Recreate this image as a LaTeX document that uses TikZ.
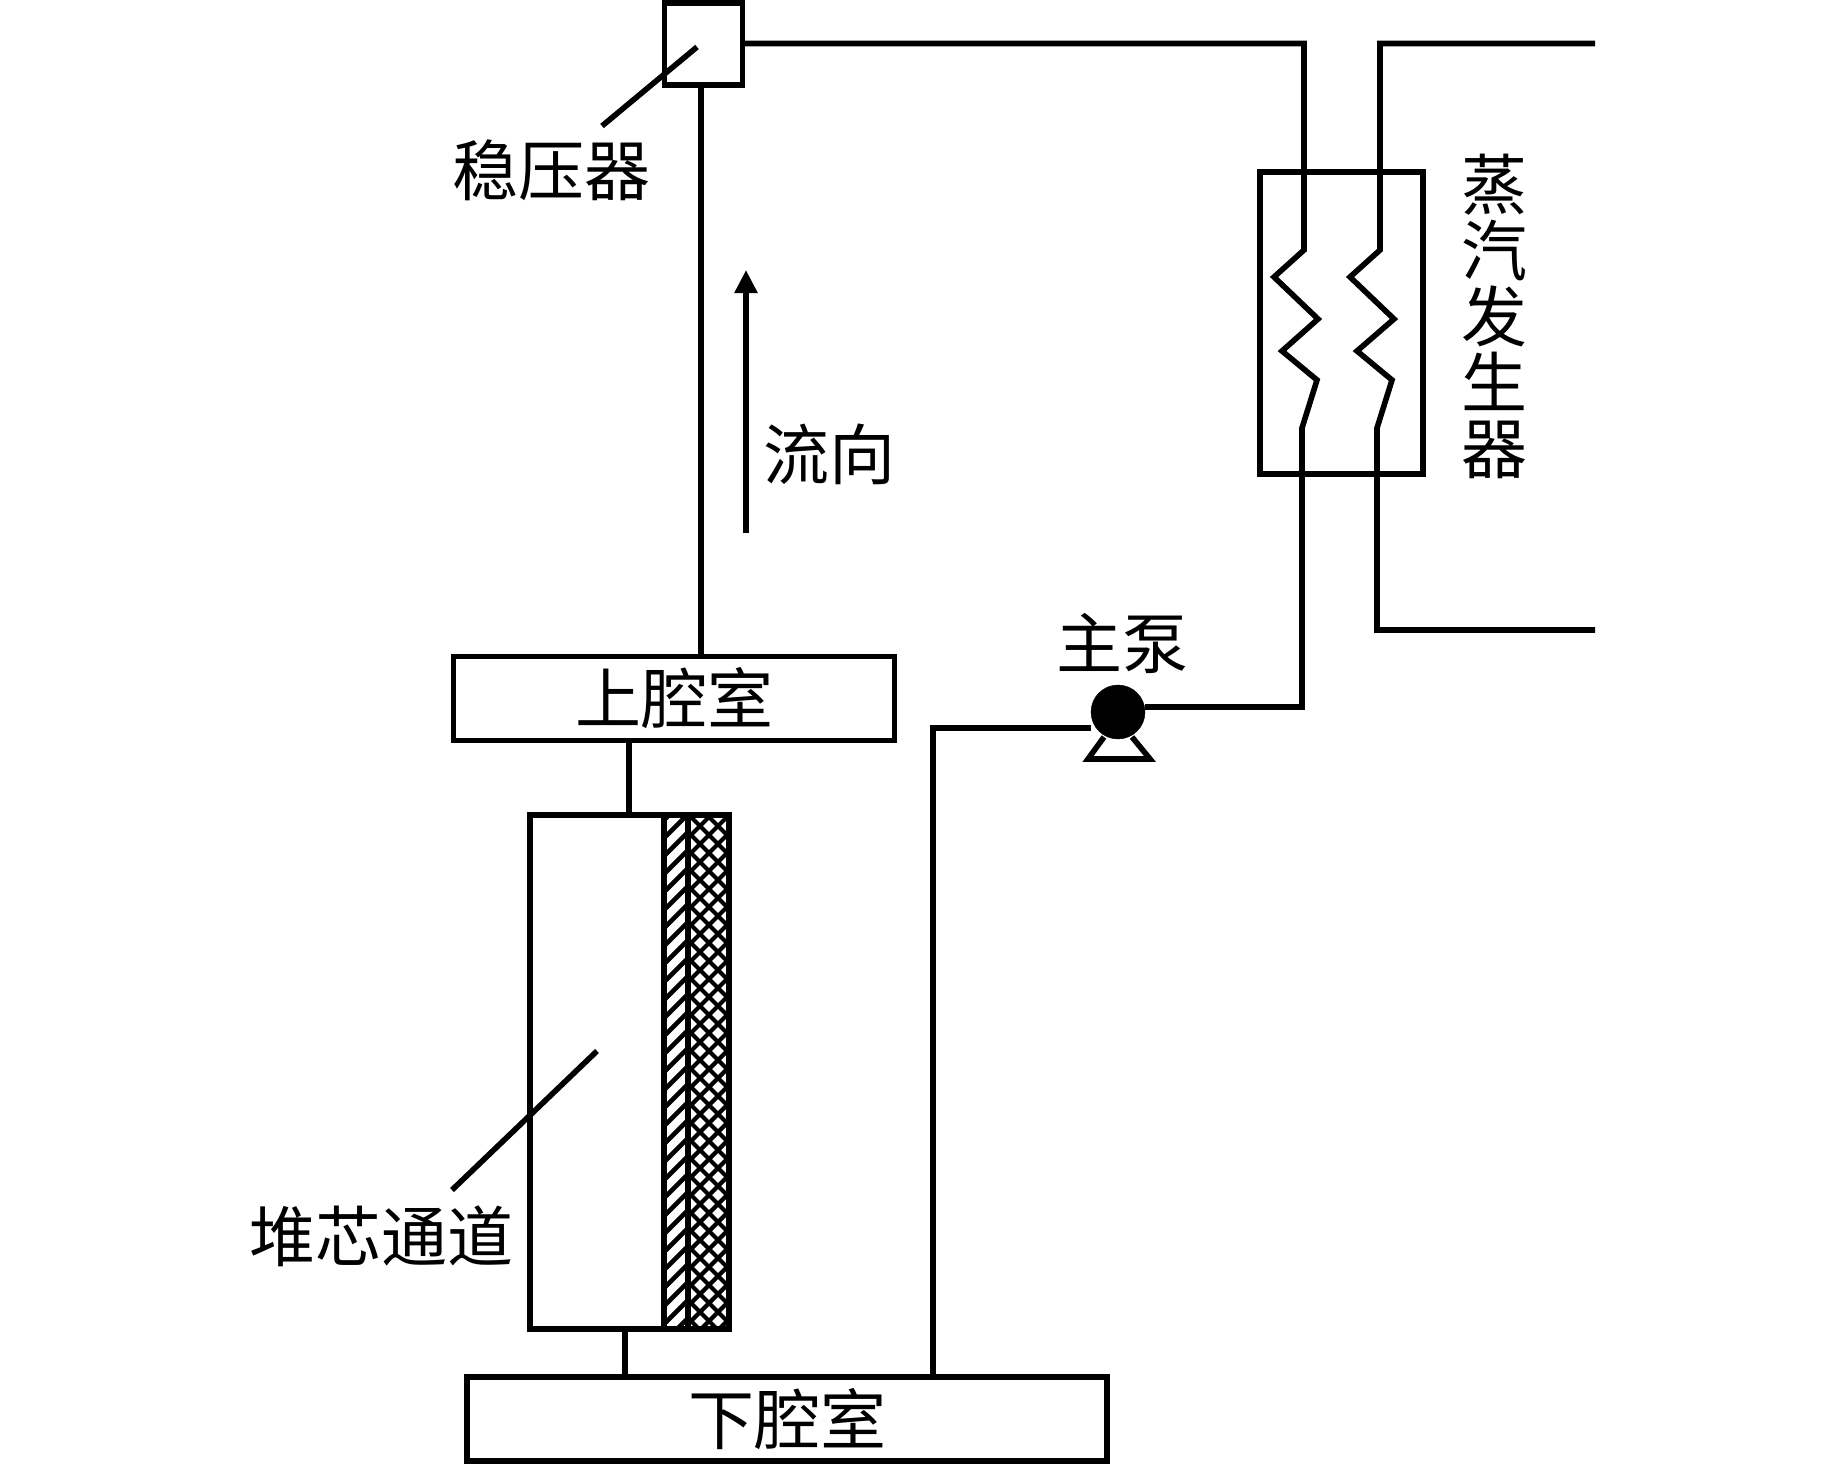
\documentclass[tikz,border=0pt]{standalone}
\usepackage{fontspec}
\usetikzlibrary{arrows.meta}
\setmainfont{Noto Sans CJK SC}
\tikzset{
    pipeline/.style={line width=5.6pt, line join=miter},
    label/.style={font=\fontsize{66}{66}\selectfont, inner sep=0pt},
    vessel/.style={draw, line width=5.8pt, inner sep=0pt, outer sep=0pt, font=\fontsize{66}{66}\selectfont},
}
\begin{document}
\begin{tikzpicture}[x=1pt, y=-1pt, >=stealth]
    \useasboundingbox (0,0) rectangle (1843,1465);

    % vessels
    \node[vessel, minimum width=78pt, minimum height=82pt] (press) at (703.5,44) {};
    \node[vessel, minimum width=163pt, minimum height=302pt] (sg) at (1341.5,323) {};
    \node[vessel, minimum width=441pt, minimum height=84pt] (upper) at (674,698.5) {上腔室};
    \node[vessel, minimum width=640pt, minimum height=84pt] (lower) at (787,1419) {下腔室};
    \node[vessel, minimum width=134pt, minimum height=514pt] (core) at (597,1072) {};
    \node[vessel, minimum width=24pt, minimum height=514pt] (clad) at (676,1072) {};
    \node[vessel, minimum width=41pt, minimum height=514pt] (wall) at (708.5,1072) {};
    \node[draw, circle, fill=black, minimum size=54pt, inner sep=0pt, outer sep=0pt] (pump) at (1118,712) {};

    % hatching of the core wall
    \begin{scope}
        \clip (clad.north west) rectangle (clad.south east);
        \foreach \y in {820,838,...,1380}
            \draw[line width=4.6pt] (664,\y) -- ++(40,-40);
    \end{scope}
    \begin{scope}
        \clip (wall.north west) rectangle (wall.south east);
        \foreach \y in {820,838,...,1400} {
            \draw[line width=4.2pt] (688,\y) -- ++(60,-60);
            \draw[line width=4.2pt] (688,\y-60) -- ++(60,60);
        }
    \end{scope}

    % free ends of the loop
    \coordinate (riser) at (701,85);
    \coordinate (hotbend) at (1304,43.5);
    \coordinate (secin) at (1595,43.5);
    \coordinate (secout) at (1595,630);
    \coordinate (pumpbend) at (1302,707);
    \coordinate (lowerbend) at (933,728);

    % primary loop
    \draw[pipeline] (riser) -- (riser |- upper.north);
    \draw[pipeline] (press.east |- hotbend) -- (hotbend) -- (1304,250) -- (1274,277) -- (1318,319)
        -- (1282,351) -- (1317,380) -- (1302,428) -- (pumpbend) -- (pump.east |- pumpbend);
    \draw[pipeline] (lowerbend |- lower.north) -- (lowerbend) -- (1091,728);
    \draw[pipeline] (629,741) -- (629,815);
    \draw[pipeline] (625,1329) -- (625,1376);

    % secondary side
    \draw[pipeline] (secin) -- (1380,43.5) -- (1380,250) -- (1350,277) -- (1394,319)
        -- (1357,351) -- (1392,380) -- (1377,428) -- (1377,630) -- (secout);

    % pump stand
    \draw[pipeline] (1104,737) -- (1088,759) -- (1150,759) -- (1132,737);

    % flow arrow
    \coordinate (flowtail) at (746,533);
    \coordinate (flowhead) at (746,270);
    \draw[-{Triangle[length=23pt,width=22pt]}, line width=5.6pt] (flowtail) -- (flowhead);
    \node[label] (flowtext) at (829,454) {流向};

    % labels with leaders
    \node[label] (presstext) at (551,170) {稳压器};
    \coordinate (pressend) at (697,47);
    \draw[pipeline] (602,126) -- (pressend);
    \node[label] (coretext) at (381,1236) {堆芯通道};
    \coordinate (coreend) at (597,1051);
    \draw[pipeline] (452,1190) -- (coreend);
    \node[label] (pumptext) at (1122,643) {主泵};
    \node[label, align=center] (sgtext) at (1494,316) {蒸\\汽\\发\\生\\器};
\end{tikzpicture}
\end{document}
